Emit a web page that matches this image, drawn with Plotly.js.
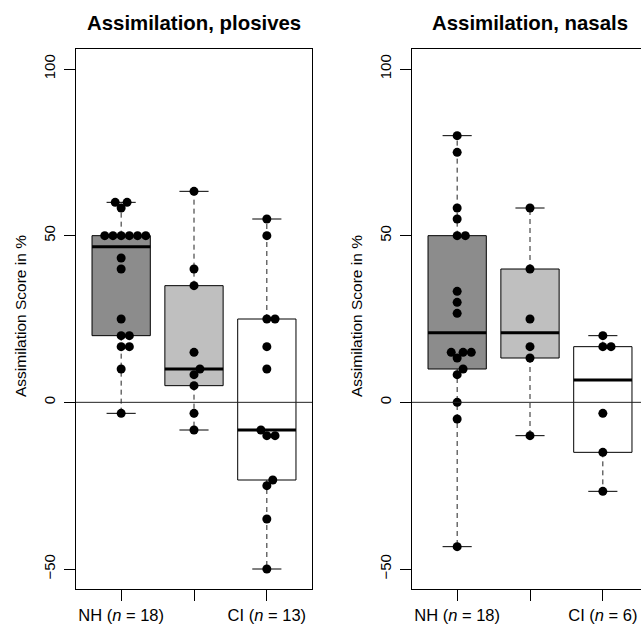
<!DOCTYPE html>
<html>
<head>
<meta charset="utf-8">
<script src="https://cdn.plot.ly/plotly-3.0.1.min.js"></script>
<style>
  html, body { margin: 0; padding: 0; overflow: hidden; background: #fff; }
  #chart { width: 700px; height: 625px; }
</style>
</head>
<body>
<div id="chart"></div>
<script>
// ---- data ----
const panelTitles = ["Assimilation, plosives", "Assimilation, nasals"];
const groupNames = ["NH", "", "CI"];           // middle label is not printed in the original
const boxColors = ["#8c8c8c", "#bfbfbf", "#ffffff"];
const yTitle = "Assimilation Score in %";
const yTicks = [-50, 0, 50, 100];

const plosivesNH  = [60, 60, 58.3, 50, 50, 50, 50, 50, 50, 43.3, 40, 25, 20, 20, 16.7, 16.7, 10, -3.3];
const plosivesMid = [63.3, 40, 35, 15, 10, 8.3, 5, -3.3, -8.3];
const plosivesCI  = [55, 50, 25, 25, 16.7, 10, -8.3, -10, -10, -23.3, -25, -35, -50];

const nasalsNH  = [80, 75, 58.3, 55, 50, 50, 33.3, 30, 26.7, 15, 15, 15, 13.3, 10, 8.3, 0, -5, -43.3];
const nasalsMid = [58.3, 40, 25, 16.7, 13.3, -10];
const nasalsCI  = [20, 16.7, 16.7, -3.3, -15, -26.7];

const panels = [[plosivesNH, plosivesMid, plosivesCI], [nasalsNH, nasalsMid, nasalsCI]];

// ---- layout geometry ----
const W = 700, H = 625;
const FONT = "Liberation Sans, Arial, Helvetica, sans-serif";
const xDomPx = [[76, 312], [412, 648]];
const yDomPx = [49, 589];
const xRange = [0.38, 3.62];
const yRange = [-56, 106];
const boxHalf = 0.4, capHalf = 0.2;
const dotDiam = 8.2;   // spacing in px for swarm

// R-like fivenum (Tukey hinges)
function fivenum(v) {
  const x = v.slice().sort((a, b) => a - b);
  const n = x.length;
  const n4 = Math.floor((n + 3) / 2) / 2;
  const d = [1, n4, (n + 1) / 2, n + 1 - n4, n];
  return d.map(k => 0.5 * (x[Math.floor(k) - 1] + x[Math.ceil(k) - 1]));
}
function boxStats(v) {
  const f = fivenum(v);
  const iqr = f[3] - f[1];
  const hiLim = f[3] + 1.5 * iqr, loLim = f[1] - 1.5 * iqr;
  const hi = Math.max(...v.filter(a => a <= hiLim));
  const lo = Math.min(...v.filter(a => a >= loLim));
  return { q1: f[1], med: f[2], q3: f[3], lo, hi };
}
// beeswarm-like swarm placement (ascending priority), in pixel space
function swarm(v, pxPerX, pxPerY) {
  const order = v.map((a, i) => i).sort((a, b) => v[a] - v[b]);
  const placed = [];
  const off = new Array(v.length).fill(0);
  order.forEach(i => {
    const y = v[i] * pxPerY;
    const cands = [0];
    placed.forEach(p => {
      const dy = Math.abs(p.y - y);
      if (dy < dotDiam) {
        const dx = Math.sqrt(dotDiam * dotDiam - dy * dy);
        cands.push(p.x + dx, p.x - dx);
      }
    });
    const ok = cands.filter(c => placed.every(p => Math.hypot(p.x - c, p.y - y) >= dotDiam - 1e-6));
    ok.sort((a, b) => (Math.abs(a) - Math.abs(b)) || (b - a));
    const xSel = ok[0];
    placed.push({ x: xSel, y });
    off[i] = xSel / pxPerX;
  });
  return off;
}

const traces = [];
const layout = {
  width: W, height: H,
  margin: { l: 0, r: 0, t: 0, b: 0 },
  paper_bgcolor: "#fff", plot_bgcolor: "#fff",
  showlegend: false, hovermode: false,
  font: { family: FONT, size: 15, color: "#000" },
  annotations: [], shapes: []
};

panels.forEach((groups, p) => {
  const sfx = p === 0 ? "" : "2";
  const xa = "x" + sfx, ya = "y" + sfx;
  const pxPerX = (xDomPx[p][1] - xDomPx[p][0]) / (xRange[1] - xRange[0]);
  const pxPerY = (yDomPx[1] - yDomPx[0]) / (yRange[1] - yRange[0]);

  groups.forEach((vals, g) => {
    const c = g + 1;
    const s = boxStats(vals);
    // whiskers (dashed)
    traces.push({ type: "scatter", mode: "lines", xaxis: xa, yaxis: ya,
      x: [c, c, null, c, c], y: [s.q3, s.hi, null, s.q1, s.lo],
      line: { color: "#222", width: 1, dash: "5px,4px" } });
    // staples
    traces.push({ type: "scatter", mode: "lines", xaxis: xa, yaxis: ya,
      x: [c - capHalf, c + capHalf, null, c - capHalf, c + capHalf], y: [s.hi, s.hi, null, s.lo, s.lo],
      line: { color: "#000", width: 1 } });
    // box
    traces.push({ type: "scatter", mode: "lines", xaxis: xa, yaxis: ya,
      x: [c - boxHalf, c + boxHalf, c + boxHalf, c - boxHalf, c - boxHalf],
      y: [s.q1, s.q1, s.q3, s.q3, s.q1],
      fill: "toself", fillcolor: boxColors[g], line: { color: "#000", width: 1 } });
    // median
    traces.push({ type: "scatter", mode: "lines", xaxis: xa, yaxis: ya,
      x: [c - boxHalf, c + boxHalf], y: [s.med, s.med], line: { color: "#000", width: 3 } });
  });
  // points
  groups.forEach((vals, g) => {
    const off = swarm(vals, pxPerX, pxPerY);
    traces.push({ type: "scatter", mode: "markers", xaxis: xa, yaxis: ya,
      x: vals.map((v, i) => g + 1 + off[i]), y: vals,
      marker: { color: "#000", size: 9 } });
  });

  const tickText = groups.map((vals, g) => groupNames[g] ? groupNames[g] + " (<i>n</i> = " + vals.length + ")" : "");
  layout["xaxis" + sfx] = {
    domain: [xDomPx[p][0] / W, xDomPx[p][1] / W], anchor: ya,
    range: xRange, tickvals: [1, 2, 3], ticktext: tickText,
    ticks: "outside", ticklen: 11, tickcolor: "#000", tickwidth: 1,
    showline: true, mirror: true, linecolor: "#000", linewidth: 1,
    showgrid: false, zeroline: false, fixedrange: true,
    ticklabelstandoff: 0,
    tickfont: { family: FONT, size: 16.5, color: "#000" }
  };
  layout["yaxis" + sfx] = {
    domain: [1 - yDomPx[1] / H, 1 - yDomPx[0] / H], anchor: xa,
    range: yRange, tickvals: yTicks, ticktext: yTicks.map(t => String(t).replace("-", "\u2212")), tickangle: -90,
    ticks: "outside", ticklen: 11, tickcolor: "#000", tickwidth: 1,
    showline: true, mirror: true, linecolor: "#000", linewidth: 1,
    showgrid: false, zeroline: false, fixedrange: true,
    ticklabelstandoff: 3,
    tickfont: { family: FONT, size: 15, color: "#000" }
  };
  layout.shapes.push({ type: "line", layer: "above", xref: xa + " domain", yref: ya,
    x0: 0, x1: 1, y0: 0, y1: 0, line: { color: "#222", width: 1 } });

  const cx = (xDomPx[p][0] + xDomPx[p][1]) / 2;
  layout.annotations.push({ xref: "paper", yref: "paper", x: cx / W, y: 1 - 23 / H,
    xanchor: "center", yanchor: "middle", showarrow: false, text: "<b>" + panelTitles[p] + "</b>",
    font: { family: FONT, size: 20.4, color: "#000" } });
  layout.annotations.push({ xref: "paper", yref: "paper", x: (xDomPx[p][0] - 56) / W, y: 1 - 316 / H,
    xanchor: "center", yanchor: "middle", showarrow: false, text: yTitle, textangle: -90,
    font: { family: FONT, size: 15.5, color: "#000" } });
});

Plotly.newPlot("chart", traces, layout, { displayModeBar: false, staticPlot: true });
</script>
</body>
</html>
